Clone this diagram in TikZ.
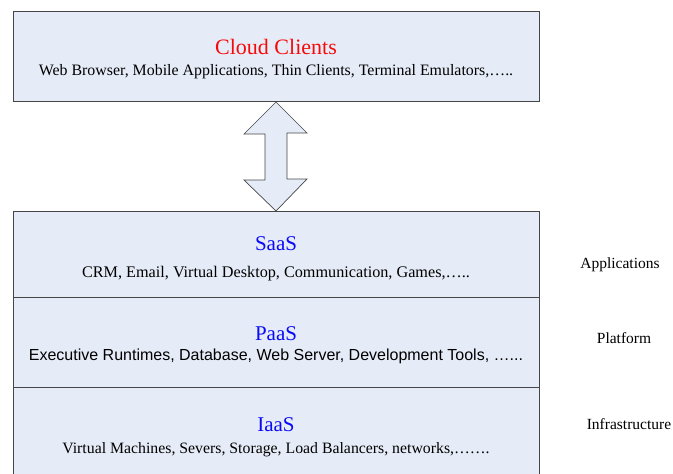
\documentclass[tikz,border=0pt]{standalone}
\usepackage{fontspec}
\usetikzlibrary{calc}
\setmainfont{Liberation Serif}
\newfontfamily\arialf{Liberation Sans}
\definecolor{boxfill}{RGB}{230,236,247}
\definecolor{boxline}{RGB}{70,70,70}
\definecolor{ttlblue}{RGB}{10,10,245}
\definecolor{ttlred}{RGB}{245,10,10}
\begin{document}
\begin{tikzpicture}[x=1pt,y=-1pt,
  layer/.style={draw=boxline,fill=boxfill,line width=1pt},
  ttl/.style={anchor=base,inner sep=0pt,font=\fontsize{21}{24}\selectfont,text=ttlblue},
  sub/.style={anchor=base,inner sep=0pt,font=\fontsize{16}{19}\selectfont},
  side/.style={anchor=base,inner sep=0pt,font=\fontsize{15.5}{18}\selectfont}]
\useasboundingbox (0,0) rectangle (673,474);
% top box
\draw[layer] (13,11) rectangle (539,101);
\coordinate (topc) at (276,101);
\node[ttl,text=ttlred,font=\fontsize{22}{26}\selectfont] (cc) at (276,54) {Cloud Clients};
\node[sub,font=\fontsize{15.9}{19}\selectfont] (ccs) at (276,75) {Web Browser, Mobile Applications, Thin Clients, Terminal Emulators,\ldots..};
% layers
\draw[layer] (13,211) rectangle (539,297);
\draw[layer] (13,297) rectangle (539,387);
\draw[layer] (13,387) rectangle (539,478);
\coordinate (botc) at (276,211);
% double arrow
\draw[draw=boxline,fill=boxfill,line width=0.7pt,line join=miter]
  ($(topc)+(0,1)$) -- ++(31,31) -- ++(-20,0) -- ++(0,46) -- ++(20,0)
  -- (botc) -- ++(-32,-31) -- ++(21,0) -- ++(0,-46) -- ++(-21,0) -- cycle;
\node[ttl] (saas) at (276,250) {SaaS};
\node[sub,font=\fontsize{16.2}{19}\selectfont] (saass) at (276,277) {CRM, Email, Virtual Desktop, Communication, Games,\ldots..};
\node[ttl] (paas) at (276,340) {PaaS};
\node[sub,font=\arialf\fontsize{16}{19}\selectfont] (paass) at (276,360) {Executive Runtimes, Database, Web Server, Development Tools, \ldots...};
\node[ttl] (iaas) at (276,431) {IaaS};
\node[sub,font=\fontsize{15.8}{19}\selectfont] (iaass) at (276,453) {Virtual Machines, Severs, Storage, Load Balancers, networks,\ldots\ldots.};
% side labels
\node[side] (app) at (620,268) {Applications};
\node[side] (plat) at (624,343) {Platform};
\node[side] (infra) at (629,429) {Infrastructure};
\end{tikzpicture}
\end{document}
